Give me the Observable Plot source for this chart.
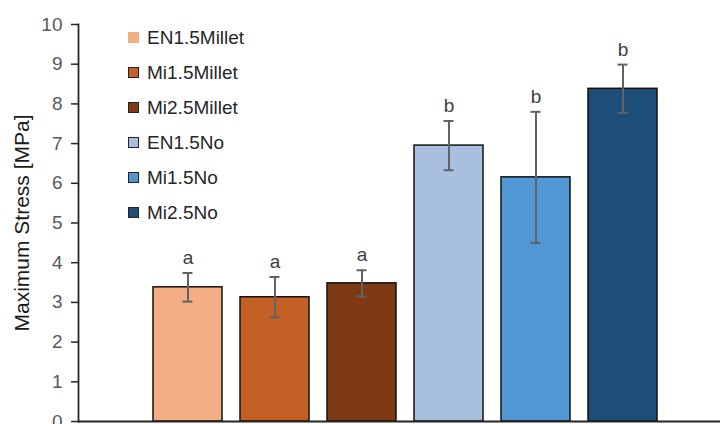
<!DOCTYPE html>
<html>
<head>
<meta charset="utf-8">
<script src="https://cdn.jsdelivr.net/npm/d3@7"></script>
<script src="https://cdn.jsdelivr.net/npm/@observablehq/plot@0.6"></script>
<style>
  html, body { margin: 0; padding: 0; background: #fff; }
  #wrap { position: relative; width: 720px; height: 424px; overflow: hidden; font-family: "Liberation Sans", Arial, sans-serif; }
  #legend { position: absolute; left: 128px; top: 20px; display: flex; flex-direction: column; }
  .row { height: 35px; display: flex; align-items: center; font-size: 19px; color: #262626; }
  .sw { width: 11px; height: 11px; box-sizing: border-box; margin-right: 8px; }
</style>
</head>
<body>
<div id="wrap"></div>
<script>
const categories = ["EN1.5Millet", "Mi1.5Millet", "Mi2.5Millet", "EN1.5No", "Mi1.5No", "Mi2.5No"];
const means = [3.38, 3.13, 3.48, 6.95, 6.15, 8.38];
const errors = [0.36, 0.51, 0.33, 0.62, 1.65, 0.61];
const letters = ["a", "a", "a", "b", "b", "b"];
const colors = ["#F4AE84", "#C45F25", "#7D3A14", "#A8BFE0", "#5197D3", "#1D4E78"];
const yTicks = [0, 1, 2, 3, 4, 5, 6, 7, 8, 9, 10];
const yLabel = "Maximum Stress [MPa]";

const data = categories.map((c, i) => ({
  cat: c, mean: means[i], lo: means[i] - errors[i], hi: means[i] + errors[i], letter: letters[i]
}));

const chart = Plot.plot({
  width: 720,
  height: 424,
  marginLeft: 78,
  marginRight: 0,
  marginTop: 24,
  marginBottom: 3,
  style: { fontFamily: "'Liberation Sans', Arial, sans-serif", fontSize: "19px", background: "transparent", overflow: "visible" },
  x: { type: "band", domain: categories, range: [153, 657], paddingInner: 0.207, paddingOuter: 0, axis: null },
  y: { domain: [0, 10], axis: null },
  color: { type: "ordinal", domain: categories, range: colors },
  marks: [
    Plot.barY(data, { x: "cat", y: "mean", fill: "cat", stroke: "#111", strokeWidth: 1.5 }),
    Plot.ruleX(data, { x: "cat", y1: "lo", y2: "hi", stroke: "#626262", strokeWidth: 2 }),
    Plot.tickY(data, { x: "cat", y: "hi", insetLeft: 29.5, insetRight: 29.5, stroke: "#626262", strokeWidth: 2 }),
    Plot.tickY(data, { x: "cat", y: "lo", insetLeft: 29.5, insetRight: 29.5, stroke: "#626262", strokeWidth: 2 }),
    Plot.text(data, { x: "cat", y: "hi", text: "letter", lineAnchor: "bottom", dy: -9, fontSize: 19, fill: "#404040" }),
    Plot.axisY({ ticks: yTicks, tickSize: 7, tickPadding: 9, stroke: "#262626", fill: "#595959", strokeWidth: 1.5, fontSize: 19, label: null, tickFormat: d => String(d) }),
    Plot.frame({ anchor: "left", stroke: "#262626", strokeWidth: 1.8 }),
    Plot.ruleY([0], { stroke: "#262626", strokeWidth: 1.8 }),
    Plot.text([yLabel], { frameAnchor: "left", textAnchor: "middle", lineAnchor: "middle", rotate: -90, dx: -56, fontSize: 21, fill: "#1a1a1a" })
  ]
});

const wrap = document.getElementById("wrap");
wrap.appendChild(chart);

const legend = document.createElement("div");
legend.id = "legend";
categories.forEach((c, i) => {
  const row = document.createElement("div");
  row.className = "row";
  const sw = document.createElement("span");
  sw.className = "sw";
  sw.style.background = colors[i];
  if (i > 0) sw.style.border = "1px solid #222";
  const t = document.createElement("span");
  t.textContent = c;
  row.appendChild(sw);
  row.appendChild(t);
  legend.appendChild(row);
});
wrap.appendChild(legend);
</script>
</body>
</html>
